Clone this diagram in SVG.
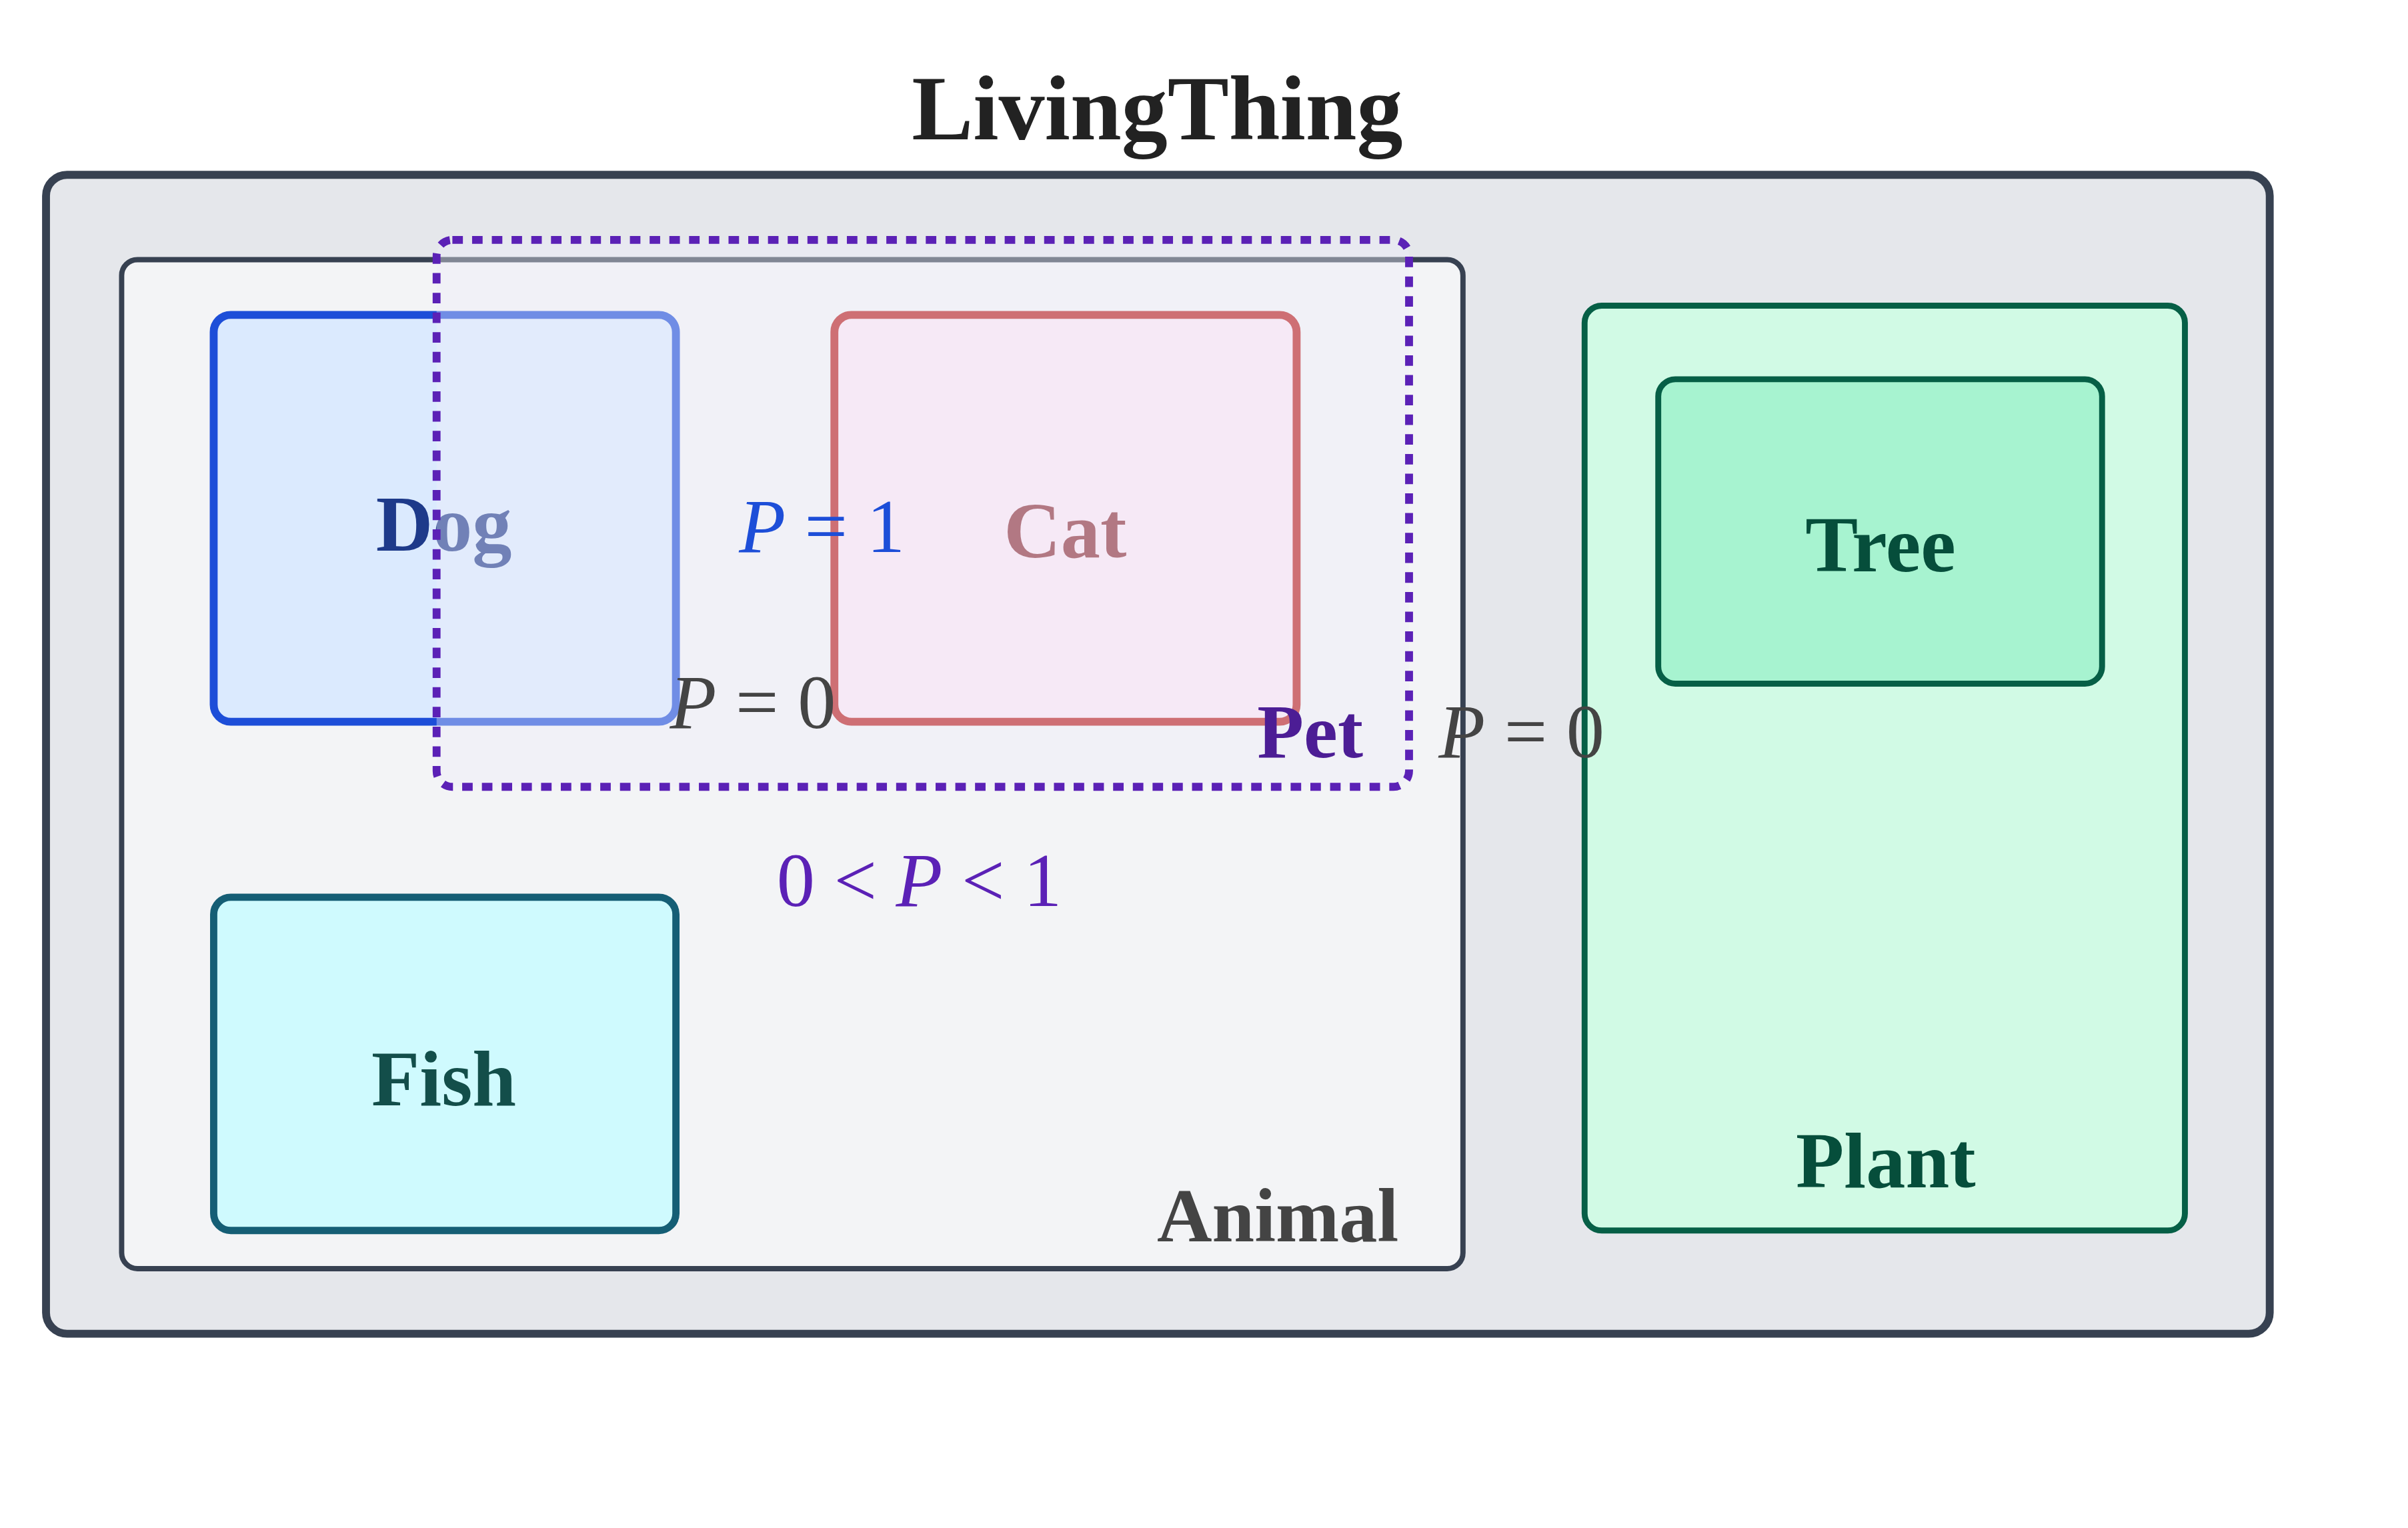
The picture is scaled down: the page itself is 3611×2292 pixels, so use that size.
<svg xmlns="http://www.w3.org/2000/svg" width="3611" height="2292" viewBox="0 0 3611 2292">
<style>
.lbl{font-family:"Liberation Serif","DejaVu Serif",serif;font-weight:bold;text-anchor:middle}
.m{font-family:"Liberation Serif","DejaVu Serif",serif;font-size:116px;text-anchor:middle}
.i{font-style:italic}
</style>
<rect width="3611" height="2292" fill="#ffffff"/>
<g transform="scale(0.986)">
<g id="LivingThing">
<rect x="70" y="266" width="3382" height="1763" rx="32" fill="#e5e7eb" stroke="#374151" stroke-width="12"/>
<text class="lbl" x="1760" y="212" font-size="140" fill="#222">LivingThing</text>
</g>
<g id="Animal">
<rect x="185" y="395" width="2040" height="1535" rx="24" fill="#f3f4f6" stroke="#374151" stroke-width="8"/>
<text class="lbl" x="2127" y="1888" font-size="116" fill="#444" style="text-anchor:end">Animal</text>
</g>
<g id="Dog">
<rect x="325" y="479" width="703" height="619" rx="26" fill="#dbeafe" stroke="#1d4ed8" stroke-width="12"/>
<text class="lbl" x="675" y="838" font-size="120" fill="#1e3a8a">Dog</text>
</g>
<g id="Cat">
<rect x="1269" y="479" width="703" height="619" rx="26" fill="#fce7f3" stroke="#b91c1c" stroke-width="12"/>
<text class="lbl" x="1620" y="848" font-size="120" fill="#8b2a35">Cat</text>
</g>
<g id="Fish">
<rect x="325" y="1365" width="703" height="507" rx="26" fill="#cffafe" stroke="#155e75" stroke-width="11"/>
<text class="lbl" x="675" y="1682" font-size="120" fill="#134e4a">Fish</text>
</g>
<g id="Plant">
<rect x="2410" y="465" width="913" height="1407" rx="26" fill="#d1fae5" stroke="#065f46" stroke-width="9"/>
<text class="lbl" x="2868" y="1806" font-size="120" fill="#064e3b">Plant</text>
</g>
<g id="Tree">
<rect x="2522" y="577" width="675" height="463" rx="26" fill="#a7f3d0" stroke="#065f46" stroke-width="9"/>
<text class="lbl" x="2860" y="869" font-size="120" fill="#064e3b">Tree</text>
</g>
<g id="Pet">
<rect x="664" y="365" width="1479" height="832" rx="24" fill="#eeeefa" fill-opacity="0.4" stroke="#5b21b6" stroke-width="12" stroke-dasharray="16 14"/>
<text class="lbl" x="2073" y="1152" font-size="116" fill="#4c1d95" style="text-anchor:end">Pet</text>
</g>
<g id="labels">
<text class="m" x="1250" y="840" fill="#1d4ed8"><tspan class="i">P</tspan> = 1</text>
<text class="m" x="1145" y="1108" fill="#444"><tspan class="i">P</tspan> = 0</text>
<text class="m" x="2314" y="1152" fill="#444"><tspan class="i">P</tspan> = 0</text>
<text class="m" x="1398" y="1378" fill="#5b21b6">0 &lt; <tspan class="i">P</tspan> &lt; 1</text>
</g>
</g>
</svg>
